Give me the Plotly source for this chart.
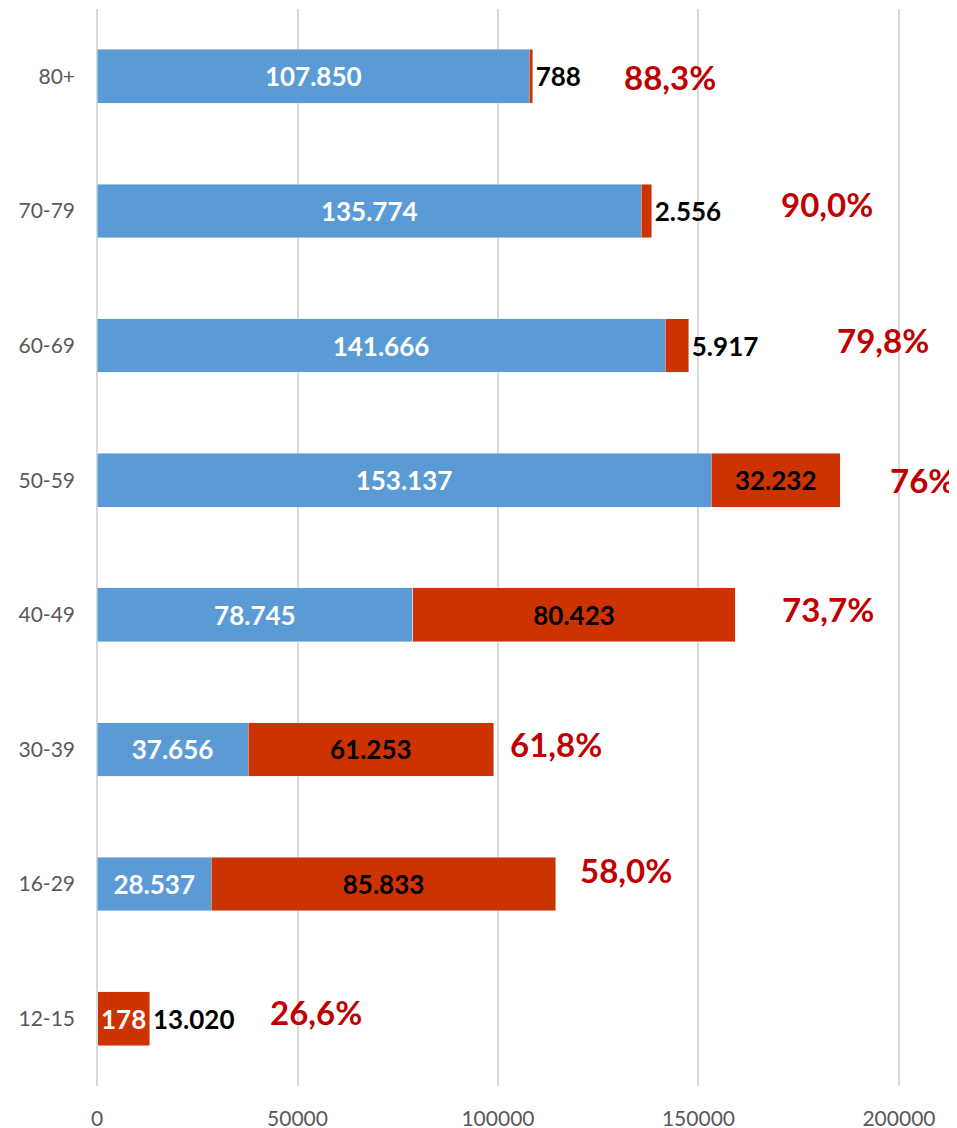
import plotly.graph_objects as go

age_groups = ['12-15', '16-29', '30-39', '40-49', '50-59', '60-69', '70-79', '80+']
blue_values = [178, 28537, 37656, 78745, 153137, 141666, 135774, 107850]
red_values = [13020, 85833, 61253, 80423, 32232, 5917, 2556, 788]
pct_labels = ['26,6%', '58,0%', '61,8%', '73,7%', '76%', '79,8%', '90,0%', '88,3%']

# where the percentage labels sit (data units) and how far they are nudged up (px)
pct_label_x = [42650, 120000, 102500, 170300, 197300, 184000, 170100, 130900]
pct_label_shift = [7, 14, 5, 6, 0, 6, 7, -1]

FONT = 'Lato'
BLUE = '#5B9BD5'
RED = '#CC3300'

blue_text = ['' if v < 1000 else f'{v:,}'.replace(',', '.') for v in blue_values]
red_text = [f'{v:,}'.replace(',', '.') for v in red_values]
red_pos = ['outside' if v < 12000 or b < 1000 else 'inside' for v, b in zip(red_values, blue_values)]

fig = go.Figure()
fig.add_trace(go.Bar(
    y=age_groups, x=blue_values, orientation='h', marker_color=BLUE,
    text=blue_text, textposition='inside', insidetextanchor='middle',
    textfont=dict(family=FONT, size=26, color='white', weight='bold'),
    constraintext='none', cliponaxis=False, hoverinfo='x+y',
))
fig.add_trace(go.Bar(
    y=age_groups, x=red_values, orientation='h', marker_color=RED,
    text=red_text, textposition=red_pos, insidetextanchor='middle',
    textfont=dict(family=FONT, size=26, color='black', weight='bold'),
    outsidetextfont=dict(family=FONT, size=26, color='black', weight='bold'),
    constraintext='none', cliponaxis=False, hoverinfo='x+y',
))

# small blue values that cannot hold their own label
for g, b, r in zip(age_groups, blue_values, red_values):
    if b < 1000:
        fig.add_annotation(x=(b + r) / 2, y=g, text=f'{b}', showarrow=False,
                           font=dict(family=FONT, size=26, color='white', weight='bold'))

for g, t, px_, sh in zip(age_groups, pct_labels, pct_label_x, pct_label_shift):
    fig.add_annotation(x=px_, y=g, text=t, showarrow=False, xanchor='left',
                       yshift=sh, font=dict(family=FONT, size=33, color='#C00000', weight='bold'))

# page has an 8px body margin, so offsets are set relative to that
fig.update_layout(
    barmode='stack', bargap=0.6, showlegend=False,
    width=957, height=1128, separators=',.',
    plot_bgcolor='white', paper_bgcolor='white',
    margin=dict(l=89, r=58, t=1, b=50),
    font=dict(family=FONT, color='#595959'),
)
fig.update_xaxes(range=[0, 202000], tickvals=[0, 50000, 100000, 150000, 200000],
                 showgrid=True, gridcolor='#D9D9D9', gridwidth=1.5,
                 zeroline=True, zerolinecolor='#D9D9D9', zerolinewidth=1.5,
                 showline=False, automargin=False,
                 tickfont=dict(family=FONT, size=21, color='#595959'),
                 tickformat='d', ticklabelstandoff=18)
fig.update_yaxes(showgrid=False, zeroline=False, showline=False, automargin=False,
                 tickfont=dict(family=FONT, size=21, color='#595959'),
                 ticklabelstandoff=21)

fig.write_html('out.html')
